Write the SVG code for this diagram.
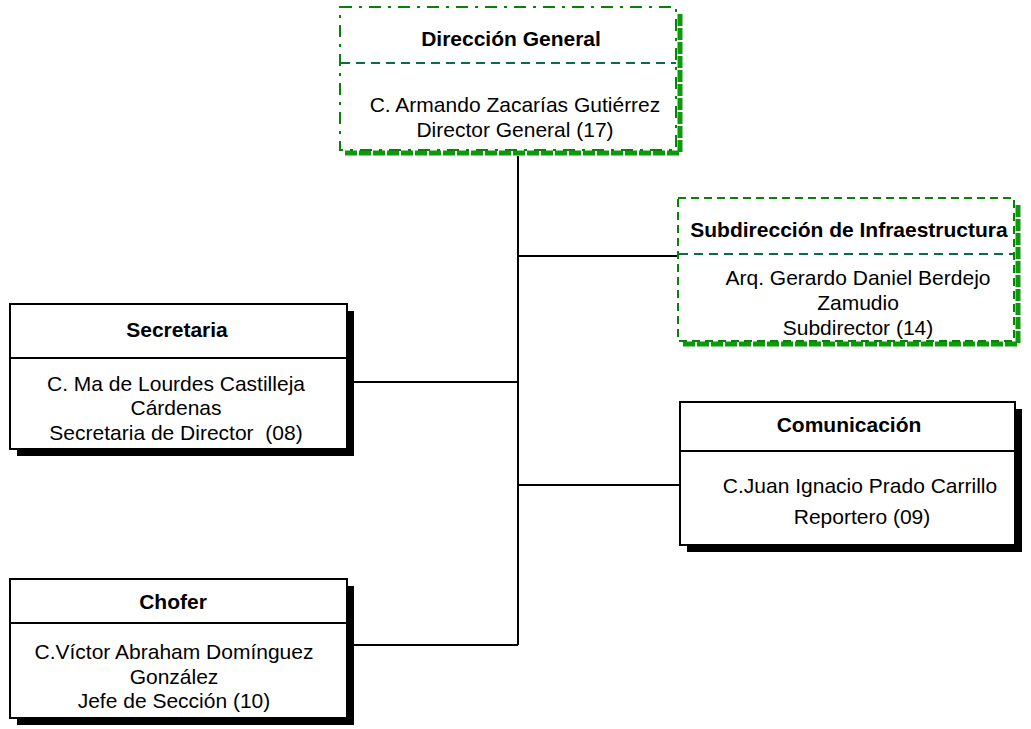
<svg xmlns="http://www.w3.org/2000/svg" width="1031" height="729" viewBox="0 0 1031 729">
<style>
text{font-family:"Liberation Sans",Arial,sans-serif;font-size:21px;fill:#000;text-anchor:middle}
.t{font-weight:bold}
.box{fill:#fff;stroke:#000;stroke-width:2}
.sh{fill:#000}
.gsh{fill:none;stroke:#0a9a0a;stroke-width:5;stroke-dasharray:12 2}
.gdd{fill:#fff;stroke:#078207;stroke-width:2;stroke-dasharray:12 7 3 7}
.gd{fill:#fff;stroke:#078207;stroke-width:2;stroke-dasharray:8 5}
.div{stroke:#000;stroke-width:2}
.tdiv{stroke:#0b6a50;stroke-width:2;stroke-dasharray:9 6}
.c{stroke:#000;stroke-width:2;fill:none}
</style>
<g id="connectors">
<path class="c" d="M518 156V645M518 256H678M348 382H518M518 485H680M347 645H518"/>
</g>
<g id="direccion">
<path class="gsh" d="M345 153H680V12"/>
<rect class="gdd" x="340" y="7" width="336" height="143"/>
<line class="tdiv" x1="341" y1="63" x2="676" y2="63"/>
<text class="t" x="511" y="46">Dirección General</text>
<text x="515" y="112">C. Armando Zacarías Gutiérrez</text>
<text x="515" y="137">Director General (17)</text>
</g>
<g id="subdireccion">
<path class="gsh" d="M683 344H1018V203"/>
<rect class="gd" x="678" y="198" width="336" height="143"/>
<line class="tdiv" x1="679" y1="254" x2="1014" y2="254"/>
<text class="t" x="849" y="237">Subdirección de Infraestructura</text>
<text x="858" y="285">Arq. Gerardo Daniel Berdejo</text>
<text x="858" y="310">Zamudio</text>
<text x="858" y="335">Subdirector (14)</text>
</g>
<g id="secretaria">
<rect class="sh" x="17" y="311" width="337" height="145"/>
<rect class="box" x="10" y="304" width="337" height="145"/>
<line class="div" x1="10" y1="358" x2="347" y2="358"/>
<text class="t" x="177" y="337">Secretaria</text>
<text x="176" y="391">C. Ma de Lourdes Castilleja</text>
<text x="176" y="415">Cárdenas</text>
<text x="176" y="440" xml:space="preserve">Secretaria de Director  (08)</text>
</g>
<g id="comunicacion">
<rect class="sh" x="687" y="409" width="335" height="143"/>
<rect class="box" x="680" y="402" width="335" height="143"/>
<line class="div" x1="680" y1="451" x2="1015" y2="451"/>
<text class="t" x="849" y="432">Comunicación</text>
<text x="860" y="493">C.Juan Ignacio Prado Carrillo</text>
<text x="862" y="524">Reportero (09)</text>
</g>
<g id="chofer">
<rect class="sh" x="17" y="586" width="337" height="139"/>
<rect class="box" x="10" y="579" width="337" height="139"/>
<line class="div" x1="10" y1="623" x2="347" y2="623"/>
<text class="t" x="173" y="609">Chofer</text>
<text x="174" y="659">C.Víctor Abraham Domínguez</text>
<text x="174" y="684">González</text>
<text x="174" y="708">Jefe de Sección (10)</text>
</g>
</svg>
